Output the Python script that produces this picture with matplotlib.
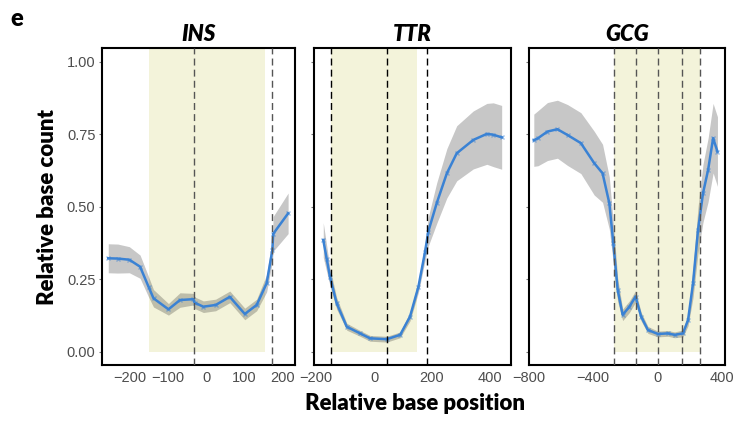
import numpy as np
import matplotlib
matplotlib.use("Agg")
import matplotlib.pyplot as plt

# ---- data ----
genes = ["INS", "TTR", "GCG"]

ins_x = [-255, -230, -200, -172, -150, -137, -98, -68, -33, -30, -7, 25, 62, 101, 132, 158, 173, 175, 214]
ins_y = [0.323, 0.322, 0.318, 0.294, 0.225, 0.185, 0.147, 0.179, 0.182, 0.170, 0.156, 0.162, 0.190, 0.131, 0.162, 0.237, 0.352, 0.407, 0.478]
ins_err = [0.05, 0.05, 0.045, 0.04, 0.035, 0.03, 0.02, 0.025, 0.02, 0.02, 0.02, 0.02, 0.02, 0.02, 0.02, 0.03, 0.04, 0.06, 0.07]

ttr_x = [-175, -163, -152, -129, -94, -48, -14, 44, 90, 124, 153, 176, 187, 216, 251, 285, 342, 389, 411, 440]
ttr_y = [0.386, 0.32, 0.260, 0.168, 0.087, 0.064, 0.047, 0.044, 0.059, 0.122, 0.225, 0.346, 0.415, 0.513, 0.616, 0.685, 0.731, 0.752, 0.749, 0.740]
ttr_err = [0.06, 0.045, 0.03, 0.02, 0.012, 0.01, 0.01, 0.01, 0.01, 0.015, 0.02, 0.03, 0.05, 0.07, 0.085, 0.095, 0.1, 0.105, 0.11, 0.11]

gcg_x = [-770, -744, -685, -623, -560, -477, -394, -342, -300, -275, -248, -217, -175, -137, -102, -60, 2, 65, 106, 158, 190, 221, 252, 283, 315, 346, 373]
gcg_y = [0.73, 0.737, 0.760, 0.768, 0.748, 0.720, 0.651, 0.616, 0.513, 0.375, 0.214, 0.128, 0.156, 0.191, 0.122, 0.076, 0.062, 0.064, 0.059, 0.064, 0.110, 0.237, 0.420, 0.547, 0.628, 0.737, 0.691]
gcg_err = [0.09, 0.095, 0.1, 0.1, 0.105, 0.105, 0.11, 0.1, 0.09, 0.07, 0.04, 0.02, 0.02, 0.02, 0.015, 0.012, 0.01, 0.01, 0.01, 0.012, 0.02, 0.05, 0.08, 0.1, 0.11, 0.12, 0.12]

# shaded regions and dashed markers
regions = [(-148, 155), (-149, 149), (-273, 263)]
dashes = [[-32, 173], [-149, 46, 182], [-273, -136, 0, 154, 263]]
xlims = [(-272, 232), (-207, 471), (-800, 420)]
xticks = [[-200, -100, 0, 100, 200], [-200, 0, 200, 400], [-800, -400, 0, 400]]

xs = [ins_x, ttr_x, gcg_x]
ys = [ins_y, ttr_y, gcg_y]
errs = [ins_err, ttr_err, gcg_err]

fig = plt.figure(figsize=(7.35, 4.23), dpi=100)
bottom, height = 0.1371, 0.7494
lefts = [0.1384, 0.4272, 0.7197]
widths = [0.263, 0.2676, 0.2667]

for i in range(3):
    ax = fig.add_axes([lefts[i], bottom, widths[i], height])
    x = np.array(xs[i])
    y = np.array(ys[i])
    e = np.array(errs[i])
    ax.axvspan(regions[i][0], regions[i][1], ymin=0.0413, ymax=1, color="#f3f3da", lw=0, zorder=0)
    ax.fill_between(x, y - e, y + e, color="black", alpha=0.22, lw=0, zorder=1)
    ax.plot(x, y, color="#3a82d4", lw=1.8, zorder=2)
    ax.plot(x, y, "x", color="#3a82d4", ms=3, alpha=0.5, zorder=2)
    dcol = "#555555" if i != 1 else "black"
    for d in dashes[i]:
        ax.axvline(d, color=dcol, ls=(0, (5, 3)), lw=1.0, zorder=3)
    ax.set_xlim(*xlims[i])
    ax.set_ylim(-0.045, 1.048)
    ax.set_xticks(xticks[i])
    ax.set_xticklabels([str(t).replace("-", "\u2212") for t in xticks[i]],
                       fontfamily="Liberation Sans", fontsize=10.5, color="#4d4d4d")
    ax.set_yticks([0, 0.25, 0.5, 0.75, 1.0])
    if i == 0:
        ax.set_yticklabels(["0.00", "0.25", "0.50", "0.75", "1.00"],
                           fontfamily="Liberation Sans", fontsize=10.5, color="#4d4d4d")
    else:
        ax.set_yticklabels([])
    ax.tick_params(axis="y", length=2.5, color="#777777", pad=2)
    ax.tick_params(axis="x", length=0, pad=4)
    for s in ax.spines.values():
        s.set_linewidth(1.5)
    ax.set_title(genes[i], fontfamily="Lato", fontweight="heavy", style="italic",
                 fontsize=16, pad=5)

fig.text(0.014, 0.955, "e", fontfamily="Lato", fontweight="heavy", fontsize=17, va="center")
fig.text(0.064, 0.51, "Relative base count", fontfamily="Lato", fontweight="heavy",
         fontsize=16, rotation=90, ha="center", va="center")
fig.text(0.565, 0.047, "Relative base position", fontfamily="Lato", fontweight="heavy",
         fontsize=16, ha="center", va="center")

fig.savefig("out.png", dpi=100)
